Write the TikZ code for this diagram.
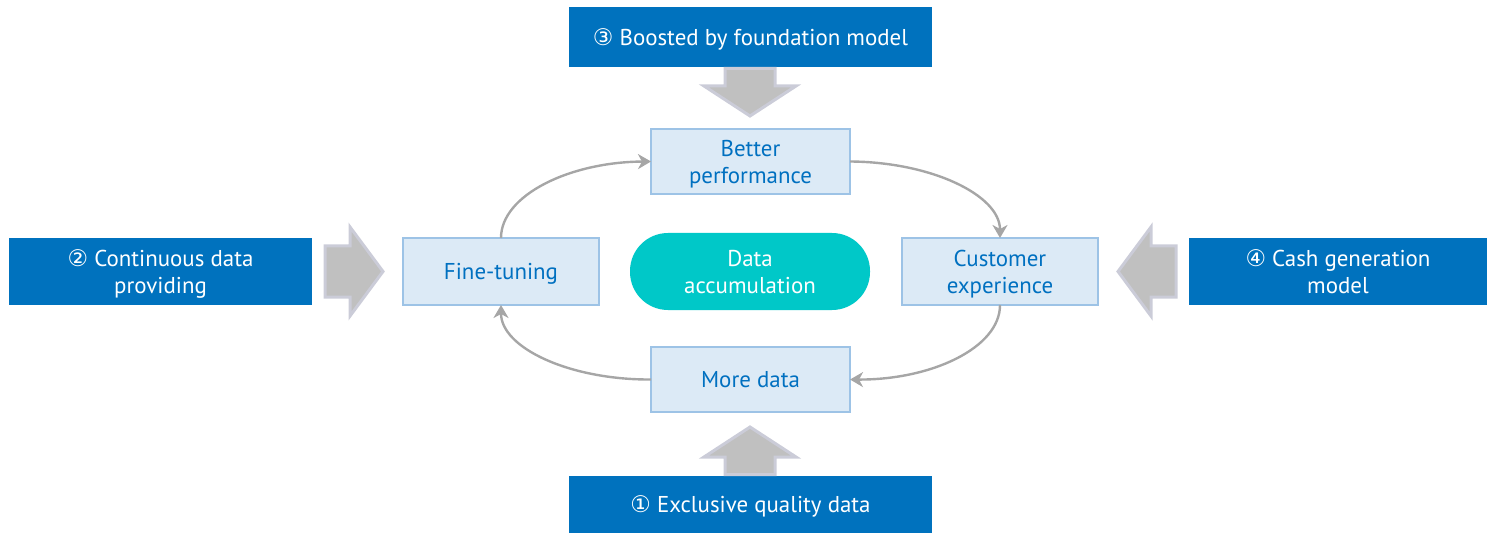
\documentclass[tikz,border=0pt]{standalone}
\usepackage{fontspec}
\setmainfont{PT Sans}
\newfontfamily\circfont{DejaVu Sans}
\usetikzlibrary{arrows.meta}
\definecolor{darkblue}{RGB}{0,114,190}
\definecolor{boxfill}{RGB}{220,234,246}
\definecolor{boxline}{RGB}{157,195,230}
\definecolor{textblue}{RGB}{0,112,192}
\definecolor{teal}{RGB}{0,200,200}
\definecolor{arrgray}{RGB}{166,166,166}
\definecolor{blockfill}{RGB}{192,192,192}
\definecolor{blockline}{RGB}{203,204,216}
\tikzset{
  txt/.style={font=\fontsize{23}{27}\selectfont, align=center, inner sep=0pt, outer sep=0pt},
  bluebox/.style={txt, fill=darkblue, draw=none, text=white},
  lightbox/.style={txt, fill=boxfill, draw=boxline, line width=1.2bp, text=textblue},
  pillbox/.style={txt, fill=teal, draw=none, text=white, rounded corners=38bp},
  cyc/.style={draw=arrgray, line width=2.4bp, -{Stealth[length=13bp,width=15bp,inset=4bp]}},
  blockarrow/.style={fill=blockfill, draw=blockline, line width=3bp, line join=miter}
}
\newcommand{\circnum}[1]{{\circfont\fontsize{23}{27}\selectfont #1}}
\newcommand{\dn}[1]{\raisebox{-3bp}[\height][\depth]{\begin{tabular}{@{}c@{}}#1\end{tabular}}}
\begin{document}
\begin{tikzpicture}[x=1bp,y=-1bp]
\useasboundingbox (0,0) rectangle (1488,534);
% blue boxes
\node[bluebox, minimum width=363bp, minimum height=60bp] (top) at (750.5,37) {\dn{\circnum{③} Boosted by foundation model}};
\node[bluebox, minimum width=363bp, minimum height=57bp] (bot) at (750.5,504.5) {\dn{\circnum{①} Exclusive quality data}};
\node[bluebox, minimum width=303bp, minimum height=67bp] (lft) at (160.5,271.5) {\dn{\circnum{②} Continuous data\\providing}};
\node[bluebox, minimum width=298bp, minimum height=67bp] (rgt) at (1338,271.5) {\dn{\circnum{④} Cash generation\\model}};
% light boxes
\node[lightbox, minimum width=199bp, minimum height=65bp] (bp) at (750.5,161.5) {\dn{Better\\performance}};
\node[lightbox, minimum width=196bp, minimum height=67bp] (ft) at (501,271.5) {\dn{Fine-tuning}};
\node[lightbox, minimum width=196bp, minimum height=67bp] (ce) at (1000,271.5) {\dn{Customer\\experience}};
\node[lightbox, minimum width=199bp, minimum height=65bp] (md) at (750.5,379.5) {\dn{More data}};
\node[pillbox, minimum width=240bp, minimum height=77bp] (da) at (750,271.5) {\dn{Data\\accumulation}};
% block arrows
\draw[blockarrow] (725,68.5) -- (775,68.5) -- (775,86) -- (796,86) -- (750,116) -- (704,86) -- (725,86) -- cycle;
\draw[blockarrow] (725,474.5) -- (775,474.5) -- (775,457) -- (796,457) -- (750,427) -- (704,457) -- (725,457) -- cycle;
\draw[blockarrow] (325,246) -- (350,246) -- (350,227) -- (383,271.5) -- (350,316) -- (350,297) -- (325,297) -- cycle;
\draw[blockarrow] (1176,246) -- (1151,246) -- (1151,227) -- (1118,271.5) -- (1151,316) -- (1151,297) -- (1176,297) -- cycle;
% cycle arrows
\draw[cyc] (ft.north) .. controls (501,195) and (570,162) .. (bp.west);
\draw[cyc] (bp.east) .. controls (931,162) and (1000,195) .. (ce.north);
\draw[cyc] (ce.south) .. controls (1000,348) and (931,380) .. (md.east);
\draw[cyc] (md.west) .. controls (570,380) and (501,348) .. (ft.south);
\end{tikzpicture}
\end{document}
